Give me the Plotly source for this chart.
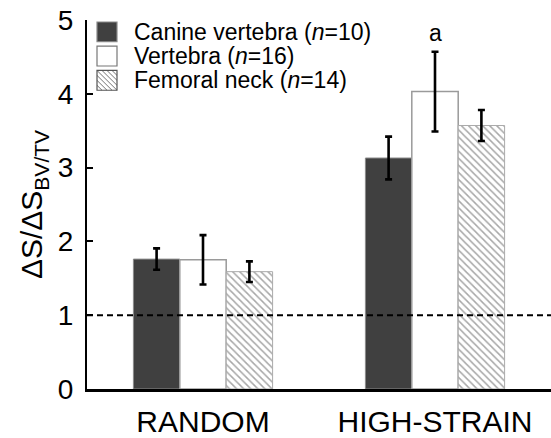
import plotly.graph_objects as go

# Groups and series
categories = ["RANDOM", "HIGH-STRAIN"]
series_names = ["Canine vertebra", "Vertebra", "Femoral neck"]
sample_sizes = [10, 16, 14]

canine_mean = [1.76, 3.13]
canine_err = [0.145, 0.29]
vertebra_mean = [1.75, 4.03]
vertebra_err = [0.335, 0.54]
femoral_mean = [1.59, 3.57]
femoral_err = [0.14, 0.21]

reference_level = 1
y_ticks = [0, 1, 2, 3, 4, 5]

FONT = "Liberation Sans, Arial, Helvetica, sans-serif"
W, H = 551, 438
M_L, M_R, M_T, M_B = 87, 0, 20, 45
PW, PH = W - M_L - M_R, H - M_T - M_B


def px_x(p):
    return (p - M_L) / PW


def px_y(p):
    return (H - M_B - p) / PH


err_style = dict(type="data", visible=True, color="black", thickness=2.6, width=3.5)

fig = go.Figure()
fig.add_trace(go.Bar(
    x=categories, y=canine_mean, name=series_names[0],
    marker=dict(color="#404040", line=dict(color="#8a8a8a", width=1)),
    error_y=dict(array=canine_err, **err_style),
))
fig.add_trace(go.Bar(
    x=categories, y=vertebra_mean, name=series_names[1],
    marker=dict(color="white", line=dict(color="#9a9a9a", width=1.5)),
    error_y=dict(array=vertebra_err, **err_style),
))
fig.add_trace(go.Bar(
    x=categories, y=femoral_mean, name=series_names[2],
    marker=dict(color="white", line=dict(color="#aaaaaa", width=1),
                pattern=dict(shape="\\", size=5, solidity=0.3,
                             fgcolor="#505050", bgcolor="white", fillmode="overlay")),
    error_y=dict(array=femoral_err, **err_style),
))

# dashed reference line
fig.add_shape(type="line", xref="paper", yref="y", x0=0, x1=1,
              y0=reference_level, y1=reference_level,
              line=dict(color="black", width=2, dash="6px,4px"), layer="above")

# legend drawn by hand: swatches plus labels
sw_x0, sw_x1 = 97, 117
row_centres = [32, 56.5, 81]
fills = ["#404040", "white", "white"]
edges = ["#8a8a8a", "#777777", "#555555"]
for i, yc in enumerate(row_centres):
    y0, y1 = yc - 10, yc + 10
    fig.add_shape(type="rect", xref="paper", yref="paper",
                  x0=px_x(sw_x0), x1=px_x(sw_x1), y0=px_y(y1), y1=px_y(y0),
                  fillcolor=fills[i], line=dict(color=edges[i], width=1.2))
    if i == 2:
        # diagonal hatch inside the swatch
        segs = []
        step = 5
        for k in range(-20, 21, step):
            xa, ya = sw_x0 + max(0, k), y0 + max(0, -k)
            xb, yb = sw_x1 - max(0, -k), y1 - max(0, k)
            if xb - xa > 0.5:
                segs.append(f"M{px_x(xa):.5f},{px_y(ya):.5f} L{px_x(xb):.5f},{px_y(yb):.5f}")
        fig.add_shape(type="path", xref="paper", yref="paper", path=" ".join(segs),
                      line=dict(color="#505050", width=0.8))
    fig.add_annotation(xref="paper", yref="paper", x=px_x(132), y=px_y(yc),
                       xanchor="left", yanchor="middle", showarrow=False,
                       text=f"{series_names[i]} (<i>n</i>={sample_sizes[i]})",
                       font=dict(family=FONT, size=23, color="black"))

# significance marker above the high-strain vertebra bar
fig.add_annotation(x=categories[1], y=4.82, xref="x", yref="y", text="a",
                   showarrow=False, yanchor="middle",
                   font=dict(family=FONT, size=23, color="black"))

fig.update_layout(
    width=W, height=H,
    margin=dict(l=M_L, r=M_R, t=M_T, b=M_B, pad=0),
    paper_bgcolor="white", plot_bgcolor="white",
    barmode="group", bargap=0.4, bargroupgap=0,
    showlegend=False,
    font=dict(family=FONT, color="black"),
)
fig.update_xaxes(
    range=[-0.5, 1.5], showline=True, linecolor="black", linewidth=2.5,
    ticks="", showgrid=False, zeroline=False,
    tickfont=dict(family=FONT, size=30, color="black"), ticklabelstandoff=4,
)
fig.update_yaxes(
    range=[0, 5], tickvals=y_ticks, showline=True, linecolor="black", linewidth=2,
    ticks="inside", ticklen=6, tickwidth=2, tickcolor="black",
    showgrid=False, zeroline=False,
    tickfont=dict(family=FONT, size=28, color="black"), ticklabelstandoff=6,
    title=dict(text="ΔS/ΔS<sub>BV/TV</sub>", standoff=6,
               font=dict(family=FONT, size=30, color="black")),
)

fig.write_html("out.html")
